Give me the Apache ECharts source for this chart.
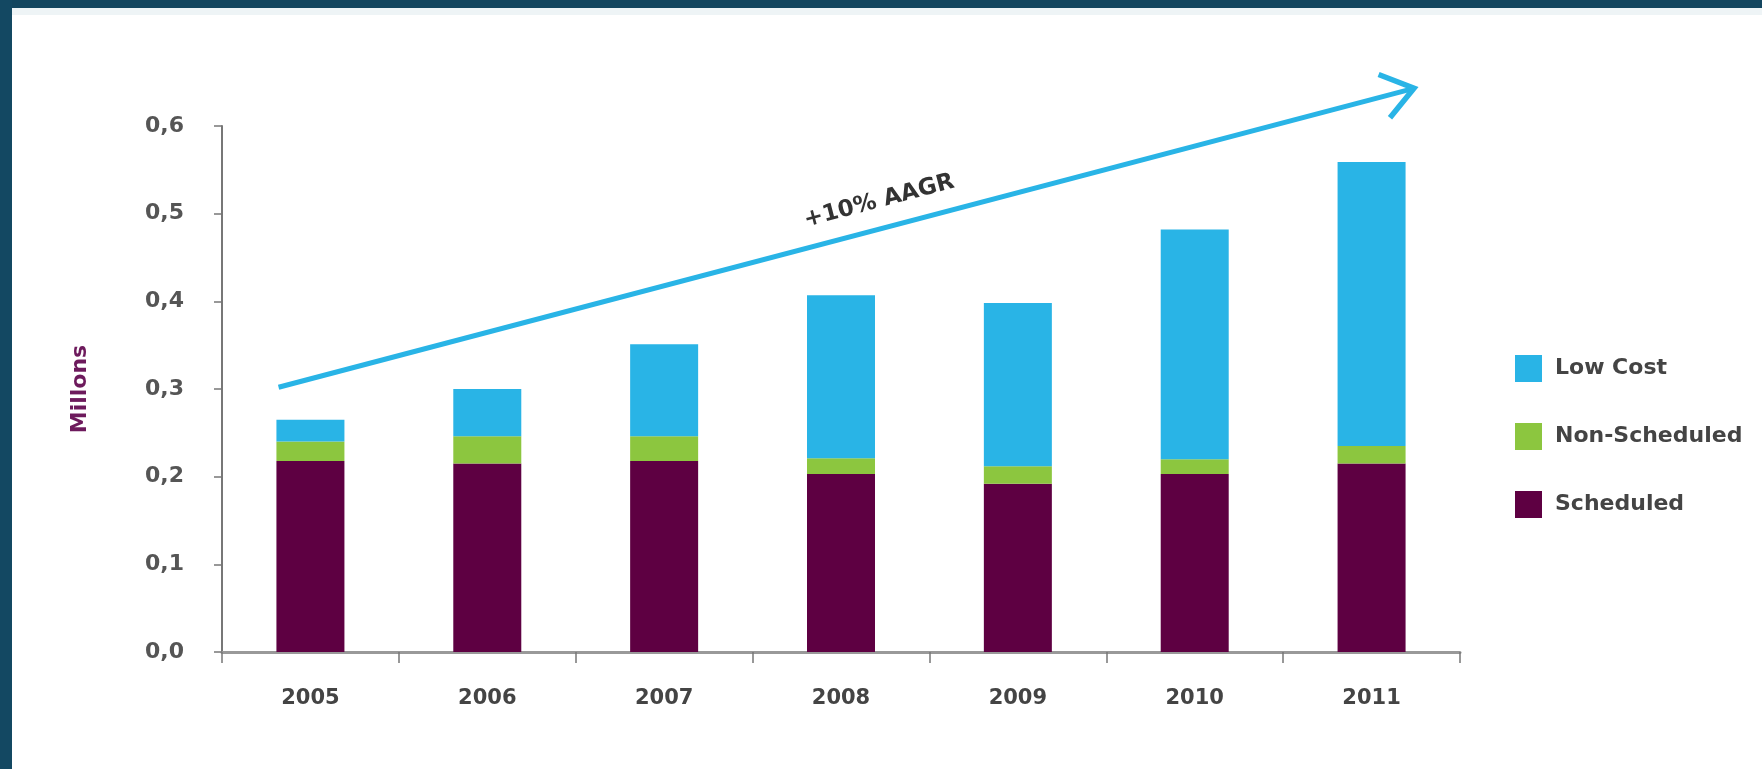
<!DOCTYPE html>
<html>
<head>
<meta charset="utf-8">
<script src="https://cdn.jsdelivr.net/npm/echarts@6/dist/echarts.min.js"></script>
<style>
html,body{margin:0;padding:0;background:#fff;}
#chart{width:1762px;height:769px;}
</style>
</head>
<body>
<div id="chart"></div>
<script>
// ---- data ----
const categories = ['2005', '2006', '2007', '2008', '2009', '2010', '2011'];
const scheduled = [0.218, 0.215, 0.218, 0.203, 0.192, 0.203, 0.215];
const nonScheduled = [0.022, 0.031, 0.028, 0.018, 0.020, 0.017, 0.020];
const lowCost = [0.025, 0.054, 0.105, 0.186, 0.186, 0.262, 0.324];
const yTicks = [0, 0.1, 0.2, 0.3, 0.4, 0.5, 0.6];
// trend arrow (x in category-index units, y in millions)
const arrowStart = [-0.18, 0.302];
const arrowEnd = [6.24, 0.643];
const arrowLabel = '+10% AAGR';

const FONT = '"DejaVu Sans", sans-serif';
const BLUE = '#29b4e6';
const GREEN = '#8cc63f';
const PURPLE = '#5e0042';

const chart = echarts.init(document.getElementById('chart'), null, {renderer: 'canvas'});

const option = {
  backgroundColor: '#ffffff',
  animation: false,
  graphic: [
    {type: 'rect', left: 0, top: 0, shape: {width: 1762, height: 8}, style: {fill: '#13465f'}, z: 100},
    {type: 'rect', left: 0, top: 8, shape: {width: 1762, height: 7}, style: {fill: '#eef4f6'}, z: 99},
    {type: 'rect', left: 0, top: 0, shape: {width: 12, height: 769}, style: {fill: '#134862'}, z: 100}
  ],
  grid: {left: 222, right: 302, top: 126, bottom: 117, containLabel: false},
  legend: {
    orient: 'vertical',
    left: 1510,
    top: 350,
    itemWidth: 27,
    itemHeight: 27,
    itemGap: 41,
    icon: 'rect',
    data: ['Low Cost', 'Non-Scheduled', 'Scheduled'],
    textStyle: {fontFamily: FONT, fontWeight: 'bold', fontSize: 22, color: '#444', padding: [0, 0, 0, 8]}
  },
  xAxis: [
    {
      type: 'category',
      data: categories,
      boundaryGap: true,
      axisLine: {show: true, lineStyle: {color: '#999', width: 3}},
      axisTick: {show: true, length: 11, lineStyle: {color: '#777', width: 1.5}},
      axisLabel: {margin: 36, fontFamily: FONT, fontWeight: 'bold', fontSize: 21, color: '#444'},
      splitLine: {show: false}
    },
    {
      type: 'value', min: -0.5, max: 6.5, show: false
    }
  ],
  yAxis: {
    type: 'value',
    min: 0,
    max: 0.6,
    interval: 0.1,
    name: 'Millons',
    nameLocation: 'middle',
    nameGap: 131,
    nameRotate: 90,
    nameTextStyle: {fontFamily: FONT, fontWeight: 'bold', fontSize: 22, color: '#6d1a5c'},
    axisLine: {show: true, onZero: false, lineStyle: {color: '#777', width: 2}},
    axisTick: {show: true, length: 8, lineStyle: {color: '#777', width: 1.5}},
    axisLabel: {
      margin: 38,
      fontFamily: FONT, fontWeight: 'bold', fontSize: 22, color: '#555',
      formatter: v => (yTicks.includes(Math.round(v * 10) / 10) ? v.toFixed(1).replace('.', ',') : '')
    },
    splitLine: {show: false}
  },
  series: [
    {name: 'Scheduled', type: 'bar', stack: 'total', barWidth: 68, data: scheduled, itemStyle: {color: PURPLE}},
    {name: 'Non-Scheduled', type: 'bar', stack: 'total', barWidth: 68, data: nonScheduled, itemStyle: {color: GREEN}},
    {name: 'Low Cost', type: 'bar', stack: 'total', barWidth: 68, data: lowCost, itemStyle: {color: BLUE}},
    {
      name: 'trend',
      type: 'custom',
      xAxisIndex: 1,
      clip: false,
      silent: true,
      z: 10,
      data: [[arrowStart[0], arrowStart[1], arrowEnd[0], arrowEnd[1]]],
      renderItem: function (params, api) {
        const p0 = api.coord([api.value(0), api.value(1)]);
        const p1 = api.coord([api.value(2), api.value(3)]);
        const dx = p1[0] - p0[0], dy = p1[1] - p0[1];
        const len = Math.sqrt(dx * dx + dy * dy);
        const ux = dx / len, uy = dy / len;
        const bx = -ux, by = -uy;
        const a = 36 * Math.PI / 180, L = 38;
        const arm = s => [p1[0] + L * (bx * Math.cos(s * a) - by * Math.sin(s * a)),
                          p1[1] + L * (bx * Math.sin(s * a) + by * Math.cos(s * a))];
        const t = 0.535, off = 27;
        const cx = p0[0] + dx * t + uy * off;
        const cy = p0[1] + dy * t - ux * off;
        const ang = Math.atan2(-dy, dx);
        return {
          type: 'group',
          children: [
            {type: 'line', shape: {x1: p0[0], y1: p0[1], x2: p1[0] - ux * 2, y2: p1[1] - uy * 2},
             style: {stroke: BLUE, lineWidth: 5}},
            {type: 'polyline', shape: {points: [arm(1), p1, arm(-1)]},
             style: {stroke: BLUE, lineWidth: 5.5, fill: null, lineJoin: 'miter', lineCap: 'butt'}},
            {type: 'text', x: cx, y: cy, rotation: ang,
             style: {text: arrowLabel, x: 0, y: 0, align: 'center', verticalAlign: 'middle',
                     font: 'bold 23px ' + FONT, fill: '#333'}}
          ]
        };
      }
    }
  ]
};
chart.setOption(option);
</script>
</body>
</html>
